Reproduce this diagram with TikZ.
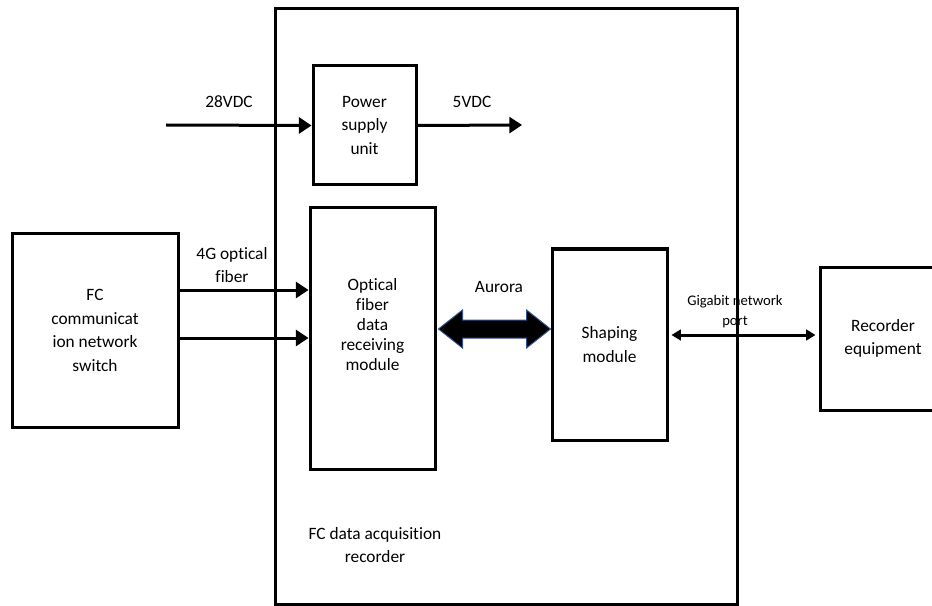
\documentclass[tikz,border=0pt]{standalone}
\usepackage{fontspec}
\setmainfont{Carlito}[Ligatures=NoCommon]
\usetikzlibrary{arrows.meta,calc}
\definecolor{auroraBlue}{HTML}{2F528F}
\tikzset{
 blk/.style={draw, line width=2.25pt, rectangle, align=center, inner sep=0pt, font=\fontsize{13}{17.6}\selectfont},
 lbl/.style={align=center, inner sep=0pt, font=\fontsize{13}{17.6}\selectfont},
 small/.style={align=center, inner sep=0pt, font=\fontsize{11}{15}\selectfont},
 conn/.style={line width=2.25pt, -{Triangle[length=9.5pt,width=12pt]}},
 gig/.style={line width=2.25pt, {Triangle[length=7pt,width=8pt]}-{Triangle[length=7pt,width=8pt]}},
}
\begin{document}
\begin{tikzpicture}[x=0.75pt,y=-0.75pt]
\path[use as bounding box, clip] (0,0) rectangle (932,606);
% blocks
\node[blk, minimum width=346.5pt, minimum height=446.25pt] (outer) at (506,306.5) {};
\node[blk, minimum width=77.25pt, minimum height=89.25pt] (power) at (364.5,125.5) {Power\\supply\\unit};
\node[blk, minimum width=93.75pt, minimum height=195.75pt, font=\fontsize{13}{15}\selectfont] (optical) at (372.5,338.5) {Optical\\fiber\\data\\receiving\\module\\[6pt]};
\node[blk, minimum width=86.25pt, minimum height=143.25pt] (shaping) at (609.5,344.5) {Shaping\\module};
\node[blk, minimum width=124.5pt, minimum height=144.75pt] (switch) at (95,330.5) {FC\\communicat\\ion network\\switch};
\node[blk, minimum width=94.5pt, minimum height=107.25pt] (recorder) at (883,338.5) {Recorder\\equipment};
% labels
\node[lbl] (l28) at (229,102) {28VDC};
\node[lbl] (l5) at (472,102) {5VDC};
\node[lbl] (lfib) at (232,265) {4G optical\\fiber};
\node[lbl] (laur) at (499,287) {Aurora};
\node[small] (lgig) at (735,312) {Gigabit network\\port};
\node[lbl] (lrec) at (375,545) {FC data acquisition\\recorder};
% coordinates
\coordinate (in28) at (166,125);
\coordinate (out5) at (522,125);
\coordinate (f1) at (0,290);
\coordinate (f2) at (0,338);
\coordinate (ay) at (0,329);
\coordinate (gy) at (0,335);
% connectors
\draw[conn] (in28) -- (power.west);
\draw[conn] (power.east) -- (out5);
\draw[conn] (switch.east |- f1) -- (optical.west |- f1);
\draw[conn] (switch.east |- f2) -- (optical.west |- f2);
\coordinate (aL) at ($(optical.east |- ay)+(2,0)$);
\coordinate (aR) at (shaping.west |- ay);
\draw[draw=auroraBlue, line width=0.75pt, fill=black]
  (aL) -- ++(24,-19) -- ++(0,10) -- ($(aR)+(-24,-9)$) -- ++(0,-10) -- (aR)
  -- ++(-24,19) -- ++(0,-10) -- ($(aL)+(24,9)$) -- ++(0,10) -- cycle;
\draw[gig] ($(shaping.east |- gy)+(3,0)$) -- ($(recorder.west |- gy)+(-3,0)$);
\end{tikzpicture}
\end{document}
